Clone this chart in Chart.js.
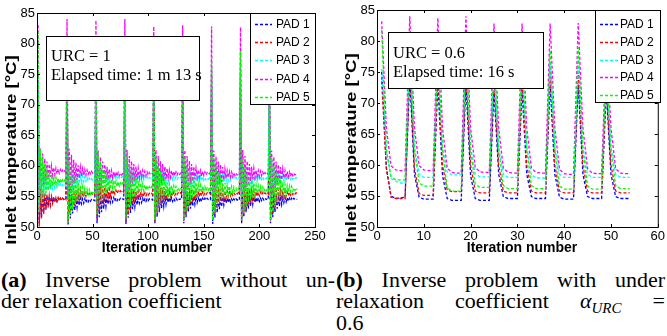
<!DOCTYPE html>
<html>
<head>
<meta charset="utf-8">
<script src="https://cdn.jsdelivr.net/npm/chart.js@4.4.1/dist/chart.umd.min.js"></script>
<style>
  body { margin: 0; width: 667px; height: 336px; background: #fff; position: relative; overflow: hidden; }
  canvas { position: absolute; top: 0; }
  #chartA { left: 0; }
  #chartB { left: 333px; }
  .cap { position: absolute; font-family: "Liberation Serif", serif; font-size: 22px; line-height: 21.5px; white-space: nowrap; color: #000; }
  .just { display: flex; justify-content: space-between; }
  .sub { font-size: 15px; position: relative; top: 5px; }
</style>
</head>
<body>
<canvas id="chartA" width="333" height="262"></canvas>
<canvas id="chartB" width="334" height="262"></canvas>

<div class="cap just" style="left:1px; top:268.5px; width:334px"><span><b>(a)</b></span><span>Inverse</span><span>problem</span><span>without</span><span>un-</span></div>
<div class="cap" style="left:1px; top:290px">der relaxation coefficient</div>
<div class="cap just" style="left:336px; top:268.5px; width:329px"><span><b>(b)</b></span><span>Inverse</span><span>problem</span><span>with</span><span>under</span></div>
<div class="cap just" style="left:336px; top:290px; width:329px"><span>relaxation</span><span>coefficient</span><span><i>α</i><i class="sub">URC</i></span><span>=</span></div>
<div class="cap" style="left:336px; top:311.5px">0.6</div>

<script>
// Series names and colours
const padNames = ['PAD 1', 'PAD 2', 'PAD 3', 'PAD 4', 'PAD 5'];
const padColors = ['#0000ff', '#ff0000', '#00ffff', '#ff00ff', '#00ff00'];

// Axis ticks
const tempTicks = [50, 55, 60, 65, 70, 75, 80, 85];
const iterTicksA = [0, 50, 100, 150, 200, 250];
const iterTicksB = [0, 10, 20, 30, 40, 50, 60];

// (a) URC = 1 : inlet temperature per iteration (9 cycles of 26 iterations)
const urc1Pad1 = [
  72, 50.6, 55.9, 51.6, 55.6, 52.4, 55.3, 53.0, 55.1, 53.4, 55.0, 53.7, 54.9, 54.0, 54.8, 54.1, 54.8, 54.2, 54.7, 54.3, 54.7, 54.4, 54.7, 54.5, 54.6, 54.5,
  74, 50.4, 55.7, 51.4, 55.4, 52.2, 55.1, 52.8, 54.9, 53.2, 54.8, 53.5, 54.7, 53.8, 54.6, 53.9, 54.6, 54.0, 54.5, 54.1, 54.5, 54.2, 54.5, 54.3, 54.4, 54.3,
  73, 50.6, 55.9, 51.6, 55.6, 52.4, 55.3, 53.0, 55.1, 53.4, 55.0, 53.7, 54.9, 54.0, 54.8, 54.1, 54.8, 54.2, 54.7, 54.3, 54.7, 54.4, 54.7, 54.5, 54.6, 54.5,
  73, 50.5, 55.8, 51.5, 55.5, 52.3, 55.2, 52.9, 55.0, 53.3, 54.9, 53.6, 54.8, 53.9, 54.7, 54.0, 54.7, 54.1, 54.6, 54.2, 54.6, 54.3, 54.6, 54.4, 54.5, 54.4,
  72, 50.6, 55.9, 51.6, 55.6, 52.4, 55.3, 53.0, 55.1, 53.4, 55.0, 53.7, 54.9, 54.0, 54.8, 54.1, 54.8, 54.2, 54.7, 54.3, 54.7, 54.4, 54.7, 54.5, 54.6, 54.5,
  72, 50.6, 55.9, 51.6, 55.6, 52.4, 55.3, 53.0, 55.1, 53.4, 55.0, 53.7, 54.9, 54.0, 54.8, 54.1, 54.8, 54.2, 54.7, 54.3, 54.7, 54.4, 54.7, 54.5, 54.6, 54.5,
  73, 50.5, 55.8, 51.5, 55.5, 52.3, 55.2, 52.9, 55.0, 53.3, 54.9, 53.6, 54.8, 53.9, 54.7, 54.0, 54.7, 54.1, 54.6, 54.2, 54.6, 54.3, 54.6, 54.4, 54.5, 54.4,
  73, 50.6, 55.9, 51.6, 55.6, 52.4, 55.3, 53.0, 55.1, 53.4, 55.0, 53.7, 54.9, 54.0, 54.8, 54.1, 54.8, 54.2, 54.7, 54.3, 54.7, 54.4, 54.7, 54.5, 54.6, 54.5,
  72, 50.6, 55.9, 51.6, 55.6, 52.4, 55.3, 53.0, 55.1, 53.4, 55.0, 53.7, 54.9, 54.0, 54.8, 54.1, 54.8, 54.2, 54.7, 54.3, 54.7, 54.4, 54.7, 54.5, 54.6, 54.5
];
const urc1Pad2 = [
  73, 50.1, 56.3, 51.3, 55.9, 52.1, 55.5, 52.8, 55.3, 53.2, 55.1, 53.6, 55.0, 53.9, 54.9, 54.1, 54.8, 54.2, 54.8, 54.3, 54.7, 54.4, 54.7, 54.5, 54.7, 54.5,
  76, 50.9, 57.1, 52.1, 56.7, 52.9, 56.3, 53.6, 56.1, 54.0, 55.9, 54.4, 55.8, 54.7, 55.7, 54.9, 55.6, 55.0, 55.6, 55.1, 55.5, 55.2, 55.5, 55.3, 55.5, 55.3,
  75, 51.3, 57.5, 52.5, 57.1, 53.3, 56.7, 54.0, 56.5, 54.4, 56.3, 54.8, 56.2, 55.1, 56.1, 55.3, 56.0, 55.4, 56.0, 55.5, 55.9, 55.6, 55.9, 55.7, 55.9, 55.7,
  75, 50.9, 57.1, 52.1, 56.7, 52.9, 56.3, 53.6, 56.1, 54.0, 55.9, 54.4, 55.8, 54.7, 55.7, 54.9, 55.6, 55.0, 55.6, 55.1, 55.5, 55.2, 55.5, 55.3, 55.5, 55.3,
  74, 51.0, 57.2, 52.2, 56.8, 53.0, 56.4, 53.7, 56.2, 54.1, 56.0, 54.5, 55.9, 54.8, 55.8, 55.0, 55.7, 55.1, 55.7, 55.2, 55.6, 55.3, 55.6, 55.4, 55.6, 55.4,
  74, 51.0, 57.2, 52.2, 56.8, 53.0, 56.4, 53.7, 56.2, 54.1, 56.0, 54.5, 55.9, 54.8, 55.8, 55.0, 55.7, 55.1, 55.7, 55.2, 55.6, 55.3, 55.6, 55.4, 55.6, 55.4,
  75, 51.0, 57.2, 52.2, 56.8, 53.0, 56.4, 53.7, 56.2, 54.1, 56.0, 54.5, 55.9, 54.8, 55.8, 55.0, 55.7, 55.1, 55.7, 55.2, 55.6, 55.3, 55.6, 55.4, 55.6, 55.4,
  75, 51.0, 57.2, 52.2, 56.8, 53.0, 56.4, 53.7, 56.2, 54.1, 56.0, 54.5, 55.9, 54.8, 55.8, 55.0, 55.7, 55.1, 55.7, 55.2, 55.6, 55.3, 55.6, 55.4, 55.6, 55.4,
  73, 51.0, 57.2, 52.2, 56.8, 53.0, 56.4, 53.7, 56.2, 54.1, 56.0, 54.5, 55.9, 54.8, 55.8, 55.0, 55.7, 55.1, 55.7, 55.2, 55.6, 55.3, 55.6, 55.4, 55.6, 55.4
];
const urc1Pad3 = [
  75, 53.8, 59.8, 54.6, 59.0, 55.1, 58.4, 55.6, 58.0, 55.9, 57.7, 56.1, 57.5, 56.3, 57.3, 56.4, 57.2, 56.5, 57.1, 56.6, 57.0, 56.6, 56.9, 56.7, 56.9, 56.7,
  78, 54.8, 60.8, 55.6, 60.0, 56.1, 59.4, 56.6, 59.0, 56.9, 58.7, 57.1, 58.5, 57.3, 58.3, 57.4, 58.2, 57.5, 58.1, 57.6, 58.0, 57.6, 57.9, 57.7, 57.9, 57.7,
  77, 55.2, 61.2, 56.0, 60.4, 56.5, 59.8, 57.0, 59.4, 57.3, 59.1, 57.5, 58.9, 57.7, 58.7, 57.8, 58.6, 57.9, 58.5, 58.0, 58.4, 58.0, 58.3, 58.1, 58.3, 58.1,
  77, 55.0, 61.0, 55.8, 60.2, 56.3, 59.6, 56.8, 59.2, 57.1, 58.9, 57.3, 58.7, 57.5, 58.5, 57.6, 58.4, 57.7, 58.3, 57.8, 58.2, 57.8, 58.1, 57.9, 58.1, 57.9,
  76, 55.0, 61.0, 55.8, 60.2, 56.3, 59.6, 56.8, 59.2, 57.1, 58.9, 57.3, 58.7, 57.5, 58.5, 57.6, 58.4, 57.7, 58.3, 57.8, 58.2, 57.8, 58.1, 57.9, 58.1, 57.9,
  76, 54.9, 60.9, 55.7, 60.1, 56.2, 59.5, 56.7, 59.1, 57.0, 58.8, 57.2, 58.6, 57.4, 58.4, 57.5, 58.3, 57.6, 58.2, 57.7, 58.1, 57.7, 58.0, 57.8, 58.0, 57.8,
  76, 55.0, 61.0, 55.8, 60.2, 56.3, 59.6, 56.8, 59.2, 57.1, 58.9, 57.3, 58.7, 57.5, 58.5, 57.6, 58.4, 57.7, 58.3, 57.8, 58.2, 57.8, 58.1, 57.9, 58.1, 57.9,
  77, 55.0, 61.0, 55.8, 60.2, 56.3, 59.6, 56.8, 59.2, 57.1, 58.9, 57.3, 58.7, 57.5, 58.5, 57.6, 58.4, 57.7, 58.3, 57.8, 58.2, 57.8, 58.1, 57.9, 58.1, 57.9,
  75, 55.0, 61.0, 55.8, 60.2, 56.3, 59.6, 56.8, 59.2, 57.1, 58.9, 57.3, 58.7, 57.5, 58.5, 57.6, 58.4, 57.7, 58.3, 57.8, 58.2, 57.8, 58.1, 57.9, 58.1, 57.9
];
const urc1Pad4 = [
  83, 55.1, 63.0, 56.1, 62.0, 56.9, 61.2, 57.5, 60.7, 57.9, 60.3, 58.2, 60.0, 58.5, 59.7, 58.6, 59.6, 58.7, 59.5, 58.8, 59.4, 58.9, 59.3, 59.0, 59.2, 59.0,
  84, 54.9, 62.8, 55.9, 61.8, 56.7, 61.0, 57.3, 60.5, 57.7, 60.1, 58.0, 59.8, 58.3, 59.5, 58.4, 59.4, 58.5, 59.3, 58.6, 59.2, 58.7, 59.1, 58.8, 59.0, 58.8,
  83.8, 54.6, 62.5, 55.6, 61.5, 56.4, 60.7, 57.0, 60.2, 57.4, 59.8, 57.7, 59.5, 58.0, 59.2, 58.1, 59.1, 58.2, 59.0, 58.3, 58.9, 58.4, 58.8, 58.5, 58.7, 58.5,
  84, 54.7, 62.6, 55.7, 61.6, 56.5, 60.8, 57.1, 60.3, 57.5, 59.9, 57.8, 59.6, 58.1, 59.3, 58.2, 59.2, 58.3, 59.1, 58.4, 59.0, 58.5, 58.9, 58.6, 58.8, 58.6,
  82.8, 54.7, 62.6, 55.7, 61.6, 56.5, 60.8, 57.1, 60.3, 57.5, 59.9, 57.8, 59.6, 58.1, 59.3, 58.2, 59.2, 58.3, 59.1, 58.4, 59.0, 58.5, 58.9, 58.6, 58.8, 58.6,
  83, 54.7, 62.6, 55.7, 61.6, 56.5, 60.8, 57.1, 60.3, 57.5, 59.9, 57.8, 59.6, 58.1, 59.3, 58.2, 59.2, 58.3, 59.1, 58.4, 59.0, 58.5, 58.9, 58.6, 58.8, 58.6,
  82.8, 54.6, 62.5, 55.6, 61.5, 56.4, 60.7, 57.0, 60.2, 57.4, 59.8, 57.7, 59.5, 58.0, 59.2, 58.1, 59.1, 58.2, 59.0, 58.3, 58.9, 58.4, 58.8, 58.5, 58.7, 58.5,
  82.7, 54.7, 62.6, 55.7, 61.6, 56.5, 60.8, 57.1, 60.3, 57.5, 59.9, 57.8, 59.6, 58.1, 59.3, 58.2, 59.2, 58.3, 59.1, 58.4, 59.0, 58.5, 58.9, 58.6, 58.8, 58.6,
  80, 54.6, 62.5, 55.6, 61.5, 56.4, 60.7, 57.0, 60.2, 57.4, 59.8, 57.7, 59.5, 58.0, 59.2, 58.1, 59.1, 58.2, 59.0, 58.3, 58.9, 58.4, 58.8, 58.5, 58.7, 58.5
];
const urc1Pad5 = [
  82, 52.5, 62.7, 53.8, 61.3, 54.7, 60.3, 55.5, 59.6, 56.0, 59.1, 56.4, 58.6, 56.7, 58.3, 56.9, 58.1, 57.0, 58.0, 57.1, 57.9, 57.2, 57.7, 57.3, 57.7, 57.4,
  80, 50.7, 60.9, 52.0, 59.5, 52.9, 58.5, 53.7, 57.8, 54.2, 57.3, 54.6, 56.8, 54.9, 56.5, 55.1, 56.3, 55.2, 56.2, 55.3, 56.1, 55.4, 55.9, 55.5, 55.9, 55.6,
  79, 52.0, 62.2, 53.3, 60.8, 54.2, 59.8, 55.0, 59.1, 55.5, 58.6, 55.9, 58.1, 56.2, 57.8, 56.4, 57.6, 56.5, 57.5, 56.6, 57.4, 56.7, 57.2, 56.8, 57.2, 56.9,
  80, 51.4, 61.6, 52.7, 60.2, 53.6, 59.2, 54.4, 58.5, 54.9, 58.0, 55.3, 57.5, 55.6, 57.2, 55.8, 57.0, 55.9, 56.9, 56.0, 56.8, 56.1, 56.6, 56.2, 56.6, 56.3,
  79, 51.2, 61.4, 52.5, 60.0, 53.4, 59.0, 54.2, 58.3, 54.7, 57.8, 55.1, 57.3, 55.4, 57.0, 55.6, 56.8, 55.7, 56.7, 55.8, 56.6, 55.9, 56.4, 56.0, 56.4, 56.1,
  78.5, 51.2, 61.4, 52.5, 60.0, 53.4, 59.0, 54.2, 58.3, 54.7, 57.8, 55.1, 57.3, 55.4, 57.0, 55.6, 56.8, 55.7, 56.7, 55.8, 56.6, 55.9, 56.4, 56.0, 56.4, 56.1,
  78, 51.1, 61.3, 52.4, 59.9, 53.3, 58.9, 54.1, 58.2, 54.6, 57.7, 55.0, 57.2, 55.3, 56.9, 55.5, 56.7, 55.6, 56.6, 55.7, 56.5, 55.8, 56.3, 55.9, 56.3, 56.0,
  78.8, 51.1, 61.3, 52.4, 59.9, 53.3, 58.9, 54.1, 58.2, 54.6, 57.7, 55.0, 57.2, 55.3, 56.9, 55.5, 56.7, 55.6, 56.6, 55.7, 56.5, 55.8, 56.3, 55.9, 56.3, 56.0,
  77, 51.2, 61.4, 52.5, 60.0, 53.4, 59.0, 54.2, 58.3, 54.7, 57.8, 55.1, 57.3, 55.4, 57.0, 55.6, 56.8, 55.7, 56.7, 55.8, 56.6, 55.9, 56.4, 56.0, 56.4, 56.1
];

// (b) URC = 0.6 : inlet temperature per iteration (9 cycles of 6 iterations)
const urc06Pad1 = [
  75, 59.5, 55.0, 54.6, 54.7, 54.8,
  74, 58.5, 54.8, 54.5, 54.5, 54.5,
  73, 58.3, 54.6, 54.3, 54.3, 54.3,
  73, 58.3, 54.6, 54.3, 54.3, 54.3,
  72, 58.5, 54.9, 54.6, 54.6, 54.6,
  72, 58.5, 54.9, 54.6, 54.6, 54.6,
  73, 58.5, 54.8, 54.5, 54.5, 54.5,
  73, 58.5, 54.9, 54.6, 54.6, 54.6,
  72, 58.5, 54.9, 54.6, 54.6, 54.6
];
const urc06Pad2 = [
  73.5, 59.5, 54.8, 54.6, 54.6, 54.6,
  76, 59.5, 55.4, 55.1, 55.1, 55.1,
  75, 60, 56.0, 55.7, 55.7, 55.7,
  75, 60, 55.8, 55.5, 55.5, 55.5,
  74, 60, 55.8, 55.5, 55.5, 55.5,
  74, 60, 55.8, 55.5, 55.5, 55.5,
  75, 60, 55.8, 55.5, 55.5, 55.5,
  75, 60, 55.8, 55.5, 55.5, 55.5,
  73, 60, 55.8, 55.5, 55.5, 55.5
];
const urc06Pad3 = [
  75.5, 62.5, 57.8, 57.4, 57.1, 57.1,
  78, 63, 58.5, 58.0, 58.0, 58.0,
  77, 63, 58.9, 58.4, 58.4, 58.4,
  77, 63, 58.6, 58.1, 58.1, 58.1,
  76, 63, 58.5, 58.0, 58.0, 58.0,
  76, 63, 58.4, 57.9, 57.9, 57.9,
  76.5, 63, 58.5, 58.0, 58.0, 58.0,
  77, 63, 58.5, 58.0, 58.0, 58.0,
  75, 63, 58.5, 58.0, 58.0, 58.0
];
const urc06Pad4 = [
  83.2, 66, 59.9, 59.2, 59.1, 59.1,
  84.0, 66, 59.9, 59.2, 59.1, 59.1,
  83.7, 66, 59.5, 58.8, 58.7, 58.7,
  84.0, 66, 59.6, 58.9, 58.8, 58.8,
  82.8, 66, 59.5, 58.8, 58.7, 58.7,
  82.8, 66, 59.5, 58.8, 58.7, 58.7,
  82.8, 66, 59.3, 58.6, 58.5, 58.5,
  82.9, 66, 59.4, 58.7, 58.6, 58.6,
  80, 66, 59.4, 58.7, 58.6, 58.6
];
const urc06Pad5 = [
  81.8, 62.5, 58.1, 57.6, 57.6, 57.6,
  80, 62.5, 57.1, 56.6, 56.6, 56.6,
  79, 62.5, 56.3, 55.8, 55.8, 55.8,
  80, 62.5, 56.9, 56.4, 56.4, 56.4,
  79, 62.5, 56.7, 56.2, 56.2, 56.2,
  78.5, 62.5, 56.7, 56.2, 56.2, 56.2,
  78.5, 62.5, 56.6, 56.1, 56.1, 56.1,
  79, 62.5, 56.6, 56.1, 56.1, 56.1,
  77, 62.5, 56.7, 56.2, 56.2, 56.2
];

const tickFont = { family: '"Liberation Sans", Arial, sans-serif', size: 13 };
const titleFont = 'bold 14px "Liberation Sans", Arial, sans-serif';

// Frame with inward ticks, the URC text box, the legend and axis titles
function decorPlugin(d) {
  return {
    id: 'decor',
    afterDatasetsDraw(chart) {
      const { ctx, chartArea: a, scales: { x, y } } = chart;
      ctx.save();
      ctx.setLineDash([]);
      ctx.strokeStyle = '#000';
      ctx.lineWidth = 1;
      ctx.strokeRect(a.left + 0.5, a.top + 0.5, a.right - a.left, a.bottom - a.top);
      ctx.beginPath();
      x.ticks.forEach(t => {
        const p = Math.round(x.getPixelForValue(t.value)) + 0.5;
        ctx.moveTo(p, a.bottom); ctx.lineTo(p, a.bottom - 3);
        ctx.moveTo(p, a.top); ctx.lineTo(p, a.top + 3);
      });
      y.ticks.forEach(t => {
        const p = Math.round(y.getPixelForValue(t.value)) + 0.5;
        ctx.moveTo(a.left, p); ctx.lineTo(a.left + 3, p);
        ctx.moveTo(a.right, p); ctx.lineTo(a.right - 3, p);
      });
      ctx.stroke();

      // text box
      const b = d.box;
      ctx.fillStyle = '#fff';
      ctx.fillRect(b.x, b.y, b.w, b.h);
      ctx.strokeRect(b.x + 0.5, b.y + 0.5, b.w, b.h);
      ctx.fillStyle = '#000';
      ctx.font = '16.5px "Liberation Serif", serif';
      ctx.textAlign = 'left';
      ctx.textBaseline = 'alphabetic';
      b.lines.forEach((s, i) => ctx.fillText(s, b.x + b.tx, b.base[i]));

      // legend
      const L = d.legend;
      ctx.fillStyle = '#fff';
      ctx.fillRect(L.x, L.y, L.w, L.h);
      ctx.strokeRect(L.x + 0.5, L.y + 0.5, L.w, L.h);
      ctx.font = '12px "Liberation Sans", Arial, sans-serif';
      ctx.textBaseline = 'middle';
      chart.data.datasets.forEach((ds, i) => {
        const cy = Math.round(L.y + L.first + i * L.step) + 0.5;
        ctx.setLineDash([3, 2]);
        ctx.strokeStyle = ds.borderColor;
        ctx.lineWidth = 1.3;
        ctx.beginPath();
        ctx.moveTo(L.x + L.l0, cy);
        ctx.lineTo(L.x + L.l1, cy);
        ctx.stroke();
        ctx.setLineDash([]);
        ctx.fillStyle = '#000';
        ctx.fillText(ds.label, L.x + L.tx, cy);
      });
      ctx.restore();
    },
    afterDraw(chart) {
      const ctx = chart.ctx;
      ctx.save();
      ctx.fillStyle = '#000';
      ctx.font = titleFont;
      ctx.textAlign = 'center';
      ctx.textBaseline = 'middle';
      ctx.fillText('Iteration number', d.xTitle[0], d.xTitle[1]);
      // the y label is drawn longer than its height, as in the original figure
      ctx.translate(d.yTitle[0], d.yTitle[1]);
      ctx.rotate(-Math.PI / 2);
      ctx.scale(1.33, 1);
      ctx.fillText('Inlet temperature [°C]', 0, 0);
      ctx.restore();
    }
  };
}

function makeChart(id, series, xTicks, d) {
  const datasets = series.map((vals, i) => ({
    label: padNames[i],
    data: vals,
    borderColor: padColors[i],
    borderWidth: 1.3,
    borderDash: [3, 2],
    pointRadius: 0,
    fill: false,
    tension: 0,
    order: series.length - i
  }));
  const iterations = series[0].map((_, i) => i + 1);
  return new Chart(document.getElementById(id), {
    type: 'line',
    data: { labels: iterations, datasets: datasets },
    options: {
      responsive: false,
      animation: false,
      devicePixelRatio: 1,
      layout: { padding: d.padding },
      plugins: { legend: { display: false }, tooltip: { enabled: false } },
      scales: {
        x: {
          type: 'linear',
          min: xTicks[0],
          max: xTicks[xTicks.length - 1],
          afterBuildTicks: s => { s.ticks = xTicks.map(v => ({ value: v })); },
          afterFit: s => { s.height = 35; },
          ticks: { font: tickFont, color: '#000', padding: 2, maxRotation: 0, autoSkip: false },
          grid: { display: false, drawTicks: false },
          border: { display: false }
        },
        y: {
          min: tempTicks[0],
          max: tempTicks[tempTicks.length - 1],
          afterBuildTicks: s => { s.ticks = tempTicks.map(v => ({ value: v })); },
          afterFit: s => { s.width = d.yWidth; },
          ticks: { font: tickFont, color: '#000', padding: 2, autoSkip: false },
          grid: { display: false, drawTicks: false },
          border: { display: false }
        }
      }
    },
    plugins: [decorPlugin(d)]
  });
}

makeChart('chartA', [urc1Pad1, urc1Pad2, urc1Pad3, urc1Pad4, urc1Pad5], iterTicksA, {
  padding: { left: 0, right: 18, top: 13, bottom: 0 },
  yWidth: 37,
  box: { x: 46, y: 36, w: 153, h: 64, tx: 5, base: [61, 80], lines: ['URC = 1', 'Elapsed time: 1 m 13 s'] },
  legend: { x: 250, y: 13, w: 65, h: 91, first: 11, step: 18.2, l0: 5, l1: 22, tx: 26 },
  xTitle: [157, 248],
  yTitle: [12, 150]
});

makeChart('chartB', [urc06Pad1, urc06Pad2, urc06Pad3, urc06Pad4, urc06Pad5], iterTicksB, {
  padding: { left: 0, right: 7, top: 10, bottom: 0 },
  yWidth: 44,
  box: { x: 55, y: 32, w: 155, h: 56, tx: 5, base: [58, 77], lines: ['URC = 0.6', 'Elapsed time: 16 s'] },
  legend: { x: 262, y: 10, w: 65, h: 92, first: 14, step: 17.8, l0: 5, l1: 23, tx: 25 },
  xTitle: [189, 248],
  yTitle: [19, 148]
});
</script>
</body>
</html>
